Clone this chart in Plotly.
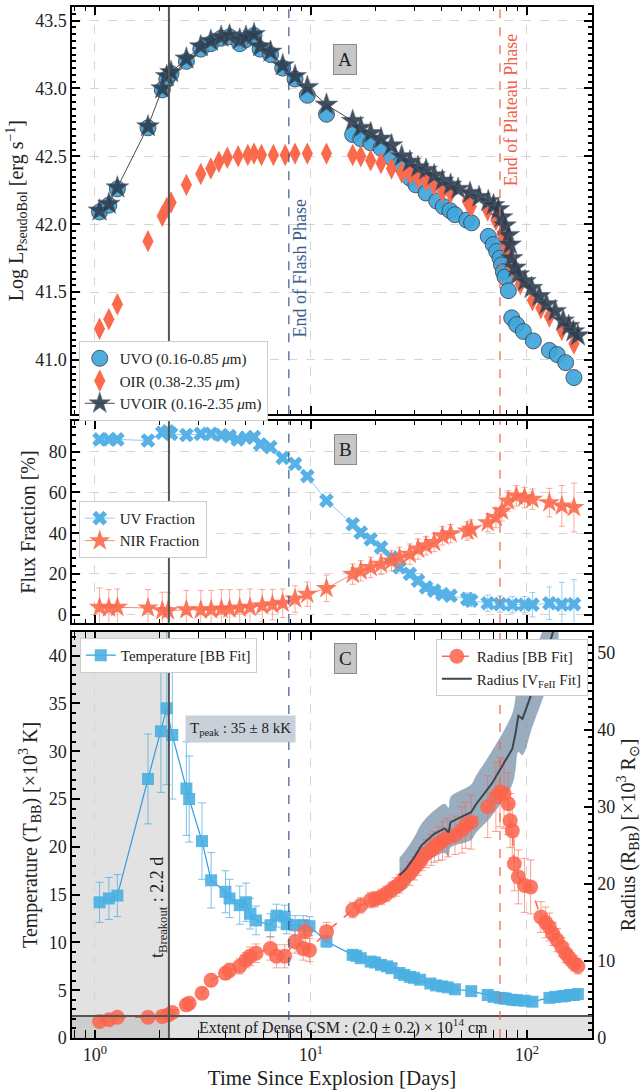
import numpy as np
import plotly.graph_objects as go

# ---------------- DATA ----------------
# Panel A: pseudo-bolometric luminosities
t_uvo = [1.05,1.16,1.27,1.76,2.05,2.15,2.25,2.65,3.09,3.44,3.84,4.2,4.68,5.0,5.45,5.82,6.5,7.4,8.44,9.62,11.8,
         15.6,17.0,18.9,21.1,23.6,25.7,28.7,30.6,34.1,38.2,41.0,44.0,46.4,52.6,55.4,66.2,69.8,72.4,75.0,76.3,77.7,
         79.1,82.0,85.0,89.6,96.2,107,127,138,151,165]
L_uvo = [42.09,42.14,42.26,42.71,42.99,43.07,43.11,43.20,43.29,43.33,43.37,43.38,43.33,43.36,43.39,43.29,43.25,
         43.15,43.07,42.95,42.81,42.66,42.63,42.60,42.56,42.49,42.44,42.34,42.29,42.23,42.17,42.13,42.10,42.07,
         42.03,42.01,41.91,41.85,41.80,41.75,41.70,41.65,41.61,41.51,41.31,41.26,41.21,41.14,41.07,41.04,40.98,40.87]

t_oir = [1.05,1.16,1.27,1.76,2.05,2.15,2.25,2.65,3.09,3.44,3.75,4.1,4.6,5.1,5.45,5.9,6.7,7.6,8.44,9.62,11.8,
         15.6,17.0,18.9,21.1,23.6,26.3,28.7,31.3,34.1,37.2,40.6,44.3,52.9,55.2,65.8,71.8,76.6,80.0,81.8,85.5,
         93.2,106,116,127,145,165]
L_oir = [41.23,41.30,41.41,41.875,42.06,42.12,42.16,42.29,42.37,42.41,42.46,42.49,42.50,42.51,42.52,42.51,42.51,
         42.51,42.52,42.52,42.52,42.51,42.50,42.47,42.45,42.41,42.38,42.37,42.34,42.32,42.29,42.24,42.23,42.17,
         42.13,42.10,42.03,41.93,41.85,41.80,41.68,41.56,41.44,41.38,41.32,41.22,41.12]

t_uvoir = [1.05,1.16,1.27,1.76,2.05,2.15,2.25,2.65,3.09,3.44,3.84,4.2,4.68,5.0,5.45,5.82,6.5,7.4,8.44,9.62,11.8,
           15.6,17.0,18.9,21.1,23.6,26.3,28.7,31.3,34.1,37.2,40.6,44.3,48.0,54.5,60.0,66.2,70.0,73.7,76.3,79.1,
           82.0,83.5,85.0,88.0,91.2,97.8,105,114,123,135,147,156,164,172]
L_uvoir = [42.10,42.15,42.27,42.72,43.00,43.09,43.12,43.22,43.31,43.35,43.38,43.39,43.36,43.38,43.40,43.31,43.27,
           43.17,43.09,43.01,42.88,42.76,42.71,42.67,42.63,42.58,42.50,42.46,42.42,42.40,42.36,42.32,42.29,42.26,
           42.23,42.20,42.17,42.14,42.11,42.05,41.99,41.92,41.85,41.75,41.68,41.63,41.58,41.53,41.47,41.41,41.36,
           41.29,41.25,41.21,41.18]

# Panel B: flux fractions [%]
t_uv = [1.05,1.16,1.27,1.76,2.05,2.18,2.25,2.65,3.09,3.45,3.85,4.2,4.58,5.0,5.45,5.82,6.49,7.4,8.44,9.62,11.8,
        15.6,17.0,18.9,21.1,23.6,25.7,28.7,31.3,34.1,37.2,40.6,44.3,52.9,55.2,65.8,75.0,85.5,97.5,106,127,145,165]
uv_frac = [86,86,86,85.5,89.3,90,88.8,88.2,88.8,88.8,88.2,87.7,86,86.9,87.2,83.6,82.3,77,74,68,56,44.4,40.3,37,
           33,28,23.2,20,16.7,13.4,11.8,10.1,9.3,7.7,6.9,5.6,5.2,4.9,4.9,4.9,5.6,4.9,5.2]
uv_err = [1.5,1.5,1.5,1.5,1.5,1.5,1.5,1.5,1.5,1.5,1.5,1.5,1.5,1.5,1.5,1.5,1.5,1.5,1.5,1.5,1.5,
          2,2,2,2,2,2,2,2,2,2,2,2,3,3,4,4,4,4,6,8,11,12]

t_nir = [1.05,1.16,1.27,1.76,2.05,2.18,2.65,3.09,3.45,3.85,4.2,4.68,5.22,5.95,6.63,7.4,8.44,9.62,11.8,15.6,17.0,
         18.9,21.1,23.6,25.7,28.7,31.3,34.1,37.2,40.6,44.3,52.9,55.2,65.8,71.8,76.6,81.8,89.3,97.5,106,127,145,165]
nir_frac = [3.6,3.3,3.6,3.3,2,2,2.4,2.3,2.4,2.8,2.8,3.3,3.6,4.4,4.9,5.6,7.7,10.1,12.9,19.9,21.5,23.2,24.8,26.4,
            28.1,29.7,32.2,33.8,35.4,38.7,39.8,41.1,42,45.2,47.7,50.9,55.8,58.3,57.5,56.7,55,53.4,52.6]
nir_err = [9.5,9,9,9,9,9,9.5,9.5,9.5,9.5,9.5,9,9,8,7.5,7,6.5,6,6.5,5,5,5,5,5,5,5,5,4.5,4.5,4.5,4.5,4.5,4.5,
           4.5,5,5,5,5,5,5,7,10,12]

# Panel C: blackbody temperature [10^3 K]
t_temp = [1.05,1.16,1.27,1.76,2.02,2.15,2.28,2.65,2.73,3.13,3.45,4.02,4.2,4.68,5.0,5.22,5.57,6.49,6.93,7.56,
          7.72,8.44,9.21,9.84,11.8,15.6,16.2,17.0,18.9,19.8,21.1,22.5,23.6,25.7,27.0,28.7,30.0,32.0,35.7,38.0,
          40.6,43.0,46.4,55.2,65.8,70.0,75.0,78.0,80.0,85.5,90.0,97.5,106,127,135,145,150,158,165,172]
temp = [14.2,14.6,14.9,27.1,32.1,34.5,31.7,26.1,25.0,20.6,16.5,15.3,14.6,13.9,14.2,13.0,12.3,11.8,12.8,12.7,
        11.9,11.8,11.8,11.7,10.1,8.7,8.6,8.35,8.0,7.9,7.65,7.5,7.3,6.8,6.6,6.4,6.3,6.1,5.7,5.5,
        5.4,5.3,5.1,4.9,4.5,4.3,4.2,4.15,4.1,4.0,3.95,3.9,3.8,4.2,4.3,4.35,4.4,4.5,4.5,4.6]
temp_err = [2.1,2.2,2.2,4.7,6.4,8.0,6.7,4.9,4.5,4.0,2.9,2.2,2.0,2.0,2.0,1.6,1.5,1.2,1.2,1.2,
            1.0,1.0,1.0,1.0,0.6,0.4,0.4,0.4,0.4,0.4,0.4,0.4,0.4,0.3,0.3,0.3,0.3,0.3,0.3,0.3,
            0.3,0.3,0.3,0.3,0.3,0.3,0.3,0.3,0.3,0.3,0.3,0.3,0.3,0.3,0.3,0.3,0.3,0.3,0.3,0.3]

# Panel C: blackbody radius [10^3 Rsun]
t_rad = [1.05,1.16,1.27,1.76,2.05,2.18,2.28,2.65,2.73,3.13,3.45,4.02,4.2,4.68,5.0,5.22,5.57,6.49,6.93,7.56,8.44,
         9.21,9.41,9.84,11.8,15.6,17.0,18.9,19.8,21.1,22.3,23.6,24.6,25.7,27.0,28.7,30.0,31.3,32.5,34.1,36.0,37.2,
         39.0,40.6,43.0,46.4,50.0,52.0,55.2,65.8,71.8,75.0,78.3,81.8,83.6,85.5,87.4,91.2,97.5,104,116,122,127,132,
         138,145,151,157,165,172]
rad = [2.15,2.37,2.7,2.7,2.8,3.0,3.3,4.3,4.5,5.8,7.5,8.4,8.8,9.3,10.1,10.6,11.0,11.6,10.6,10.6,12.5,11.6,13.8,
       11.4,13.8,16.6,17.2,17.9,18.0,18.3,18.7,19.2,19.6,20.0,20.7,21.3,22.0,22.6,23.2,23.9,24.4,24.8,25.2,25.6,
       26.0,26.3,27.0,27.6,28.0,30.0,31.3,31.9,31.7,30.4,28.2,26.9,22.6,20.9,19.8,19.6,15.7,15.0,14.4,13.5,12.7,
       11.8,11.0,10.4,9.7,9.3]
rad_err = [0.3,0.3,0.3,0.3,0.3,0.4,0.4,0.5,0.5,0.6,0.8,0.8,0.9,1.0,1.0,1.2,1.2,1.5,1.5,1.5,1.5,1.5,1.5,1.5,1.2,
           1.0,1.0,1.0,1.0,1.0,1.0,1.0,1.2,1.2,1.2,1.5,1.5,1.5,1.5,1.8,2.0,2.0,2.2,2.5,2.5,2.5,3.0,3.0,3.5,4.0,
           4.5,4.5,4.5,4.0,3.5,3.5,3.5,3.5,3.5,3.5,2.0,2.0,1.8,1.5,1.5,1.2,1.2,1.0,1.0,1.0]

# Panel C: radius from Fe II velocity
t_vfe = [25.7,27.5,30.0,32.5,37.2,41.6,43.4,44.3,55.2,58.0,68.7,85.5,88.5,91.2,95.3,106,120,132,140]
rad_vfe = [21.1,21.9,23.4,25.0,26.5,27.2,26.7,28.0,29.3,30.3,33.0,37.5,39.5,41.8,41.4,45.0,48.9,52.4,55.0]
rad_vfe_sig = [2.3,2.5,2.6,2.8,3.0,3.2,3.2,3.3,3.6,3.7,4.2,4.6,4.7,4.7,4.7,4.6,4.4,4.2,4.2]

T_BREAKOUT = 2.2
T_FLASH_END = 7.9
T_PLATEAU_END = 75.0
CSM_EXTENT = 2.87     # 2.0e14 cm in 10^3 Rsun
T_PEAK_LABEL = "T<sub>peak</sub> : 35 ± 8 kK"

# ---------------- STYLE ----------------
FONT = "Liberation Serif"
BLUE = "#3fa6dc"
BLUE_SQ = "#4aafe2"
RED = "#fb6a4d"
DARK = "#2c3e50"
GRAY_LINE = "#555555"
FLASH_C = "#3b5b8f"

fig = go.Figure()

# Panel A
fig.add_trace(go.Scatter(x=t_uvo, y=L_uvo, mode="markers", name="UVO (0.16-0.85 <i>μ</i>m)",
                         marker=dict(symbol="circle", size=16, color=BLUE, opacity=0.92,
                                     line=dict(color="#3d4c5c", width=1)),
                         xaxis="x", yaxis="y", legend="legend"))
fig.add_trace(go.Scatter(x=t_oir, y=L_oir, mode="markers", name="OIR (0.38-2.35 <i>μ</i>m)",
                         marker=dict(symbol="diamond-tall", size=16, color=RED, line=dict(width=0)),
                         xaxis="x", yaxis="y", legend="legend"))
fig.add_trace(go.Scatter(x=t_uvoir, y=L_uvoir, mode="lines+markers", name="UVOIR (0.16-2.35 <i>μ</i>m)",
                         line=dict(color="#4a4a4a", width=1),
                         marker=dict(symbol="star", size=17, color=DARK, opacity=0.9,
                                     line=dict(color="#5a6470", width=0.6)),
                         xaxis="x", yaxis="y", legend="legend"))

# Panel B
fig.add_trace(go.Scatter(x=t_uv, y=uv_frac, mode="lines+markers", name="UV Fraction",
                         line=dict(color="#8fcdf0", width=1),
                         marker=dict(symbol="x", size=13, color="#56b2e6", line=dict(width=0)),
                         error_y=dict(type="data", array=uv_err, color="rgba(86,178,230,0.6)", thickness=1, width=3),
                         xaxis="x2", yaxis="y2", legend="legend2"))
fig.add_trace(go.Scatter(x=t_nir, y=nir_frac, mode="lines+markers", name="NIR Fraction",
                         line=dict(color="#f98b73", width=1),
                         marker=dict(symbol="star", size=16, color=RED, opacity=0.9, line=dict(width=0)),
                         error_y=dict(type="data", array=nir_err, color="rgba(245,100,75,0.55)", thickness=1, width=3),
                         xaxis="x2", yaxis="y2", legend="legend2"))

# Panel C: V_FeII band + line
lo = [r - s for r, s in zip(rad_vfe, rad_vfe_sig)]
hi = [r + s for r, s in zip(rad_vfe, rad_vfe_sig)]
fig.add_trace(go.Scatter(x=t_vfe, y=lo, mode="lines", line=dict(width=0, shape="spline"), showlegend=False,
                         hoverinfo="skip", xaxis="x3", yaxis="y4"))
fig.add_trace(go.Scatter(x=t_vfe, y=hi, mode="lines", line=dict(width=0, shape="spline"), fill="tonexty",
                         fillcolor="rgba(120,145,170,0.75)", showlegend=False, hoverinfo="skip",
                         xaxis="x3", yaxis="y4"))
# Radius BB
fig.add_trace(go.Scatter(x=t_rad, y=rad, mode="lines+markers", name="Radius [BB Fit]",
                         line=dict(color=RED, width=1.6, dash="dash"),
                         marker=dict(symbol="circle", size=15, color="rgba(251,100,75,0.85)", line=dict(width=0)),
                         error_y=dict(type="data", array=rad_err, color="rgba(245,100,75,0.6)", thickness=1, width=4),
                         xaxis="x3", yaxis="y4", legend="legend4"))
fig.add_trace(go.Scatter(x=t_vfe, y=rad_vfe, mode="lines", name="Radius [V<sub>FeII</sub> Fit]",
                         line=dict(color="#3d4651", width=2),
                         xaxis="x3", yaxis="y4", legend="legend4"))
# Temperature
fig.add_trace(go.Scatter(x=t_temp, y=temp, mode="lines+markers", name="Temperature [BB Fit]",
                         line=dict(color="#2f9fdc", width=1.2),
                         marker=dict(symbol="square", size=12, color=BLUE_SQ, opacity=0.9, line=dict(width=0)),
                         error_y=dict(type="data", array=temp_err, color="rgba(70,170,225,0.7)", thickness=1, width=4),
                         xaxis="x3", yaxis="y3", legend="legend3"))

# ---------------- AXES ----------------
xr = [np.log10(0.783), np.log10(200)]
axis_common = dict(showline=True, linecolor="black", linewidth=1.5, mirror="allticks", ticks="inside",
                   ticklen=8, tickwidth=1.5, tickcolor="black", zeroline=False,
                   tickfont=dict(family=FONT, size=18, color="#222"))
grid = dict(showgrid=True, gridcolor="#d5d5d5", griddash="dash", gridwidth=1)

xcommon = dict(type="log", range=xr, tickvals=[1, 10, 100],
               ticktext=["10<sup>0</sup>", "10<sup>1</sup>", "10<sup>2</sup>"],
               minor=dict(ticks="inside", ticklen=4, tickwidth=1, tickcolor="black", dtick="D1", showgrid=False),
               **axis_common, **grid)

dA = [0.605, 1.0]
dB = [0.4027, 0.5983]
dC = [0.0, 0.394]

fig.update_layout(
    xaxis=dict(anchor="y", showticklabels=False, **xcommon),
    xaxis2=dict(anchor="y2", matches="x", showticklabels=False, **xcommon),
    xaxis3=dict(anchor="y3", matches="x", showticklabels=True,
                title=dict(text="Time Since Explosion [Days]", font=dict(family=FONT, size=21, color="#222"),
                           standoff=6), **xcommon),
    yaxis=dict(domain=dA, anchor="x", range=[40.6, 43.6], dtick=0.5, tickformat=".1f",
               minor=dict(ticks="inside", ticklen=4, tickcolor="black", dtick=0.05, showgrid=False),
               title=dict(text="Log L<sub>PseudoBol</sub> [erg s<sup>−1</sup>]",
                          font=dict(family=FONT, size=20, color="#222"), standoff=6),
               **axis_common, **grid),
    yaxis2=dict(domain=dB, anchor="x2", range=[-4, 95], dtick=20, tick0=0,
                minor=dict(ticks="inside", ticklen=4, tickcolor="black", dtick=4, showgrid=False),
                title=dict(text="Flux Fraction [%]", font=dict(family=FONT, size=20, color="#222"), standoff=8),
                **axis_common, **grid),
    yaxis3=dict(domain=dC, anchor="x3", range=[0, 42.5], dtick=5,
                minor=dict(ticks="inside", ticklen=4, tickcolor="black", dtick=1, showgrid=False),
                title=dict(text="Temperature (T<sub>BB</sub>) [×10<sup>3</sup> K]",
                           font=dict(family=FONT, size=20, color="#222"), standoff=6),
                **{**axis_common, "mirror": False}, showgrid=False),
    yaxis4=dict(overlaying="y3", side="right", anchor="x3", range=[0, 52.7], dtick=10,
                minor=dict(ticks="inside", ticklen=4, tickcolor="black", dtick=1, showgrid=False),
                title=dict(text="Radius (R<sub>BB</sub>) [×10<sup>3</sup> R<sub>⊙</sub>]",
                           font=dict(family=FONT, size=20, color="#222"), standoff=6),
                **{**axis_common, "mirror": False}, showgrid=False),
)

# ---------------- SHAPES ----------------
fig.add_shape(type="rect", xref="x3", yref="y3 domain", x0=0.5, x1=T_BREAKOUT, y0=0, y1=1,
              fillcolor="rgba(150,150,150,0.28)", line=dict(width=0), layer="below")
fig.add_shape(type="rect", xref="x3 domain", yref="y4", x0=0, x1=1, y0=0, y1=CSM_EXTENT,
              fillcolor="rgba(150,150,150,0.28)", line=dict(width=0), layer="below")
fig.add_shape(type="line", xref="x3 domain", yref="y4", x0=0, x1=1, y0=CSM_EXTENT, y1=CSM_EXTENT,
              line=dict(color=GRAY_LINE, width=2), layer="above")
for xa, ya in [("x", "y"), ("x2", "y2"), ("x3", "y3")]:
    fig.add_shape(type="line", xref=xa, yref=ya + " domain", x0=T_BREAKOUT, x1=T_BREAKOUT, y0=0, y1=1,
                  line=dict(color=GRAY_LINE, width=2), layer="above")
    fig.add_shape(type="line", xref=xa, yref=ya + " domain", x0=T_FLASH_END, x1=T_FLASH_END, y0=0, y1=1,
                  line=dict(color=FLASH_C, width=1.2, dash="dash"), layer="above")
    fig.add_shape(type="line", xref=xa, yref=ya + " domain", x0=T_PLATEAU_END, x1=T_PLATEAU_END, y0=0, y1=1,
                  line=dict(color="#f0604a", width=1.2, dash="dash"), layer="above")

# ---------------- ANNOTATIONS ----------------
def panel_label(txt, y):
    fig.add_annotation(xref="paper", yref="paper", x=0.525, y=y, text=txt, showarrow=False,
                       font=dict(family=FONT, size=19, color="#222"), bgcolor="#c6c6c6",
                       bordercolor="#8a8a8a", borderwidth=1, borderpad=4)

panel_label("A", 0.964)
panel_label("B", 0.571)
panel_label("C", 0.368)

fig.add_annotation(xref="x", yref="y", x=np.log10(T_FLASH_END), y=41.68, xshift=11, text="End of Flash Phase",
                   textangle=-90, showarrow=False, font=dict(family=FONT, size=18, color=FLASH_C))
fig.add_annotation(xref="x", yref="y", x=np.log10(T_PLATEAU_END), y=42.84, xshift=11, text="End of Plateau Phase",
                   textangle=-90, showarrow=False, font=dict(family=FONT, size=18, color="#f0604a"))
fig.add_annotation(xref="x3", yref="y3", x=np.log10(T_BREAKOUT), y=13.7, xshift=-11,
                   text="t<sub>Breakout</sub> : 2.2 d", textangle=-90, showarrow=False,
                   font=dict(family=FONT, size=18, color="#222"))
fig.add_annotation(xref="x3", yref="y3", x=np.log10(4.74), y=32.3, text=T_PEAK_LABEL, showarrow=False,
                   font=dict(family=FONT, size=15, color="#222"), bgcolor="rgba(190,200,212,0.85)",
                   borderpad=4)
fig.add_annotation(xref="x3", yref="y3", x=np.log10(14.1), y=1.2,
                   text="Extent of Dense CSM : (2.0 ± 0.2) × 10<sup>14</sup> cm", showarrow=False,
                   font=dict(family=FONT, size=16, color="#222"))

# ---------------- LEGENDS ----------------
leg = dict(bgcolor="white", bordercolor="#cccccc", borderwidth=1, font=dict(family=FONT, size=15, color="#222"),
           xanchor="left", yanchor="top", itemsizing="trace", tracegroupgap=0, traceorder="normal")
fig.update_layout(
    legend=dict(x=0.013, y=0.676, **leg),
    legend2=dict(x=0.013, y=0.521, **leg),
    legend3=dict(x=0.015, y=0.388, **leg),
    legend4=dict(**{**leg, "xanchor": "right"}, x=0.992, y=0.387),
)

fig.update_layout(width=642, height=1091, margin=dict(l=72, r=50, t=5, b=53),
                  plot_bgcolor="white", paper_bgcolor="white",
                  font=dict(family=FONT, color="#222"))

fig.write_html("out.html")
